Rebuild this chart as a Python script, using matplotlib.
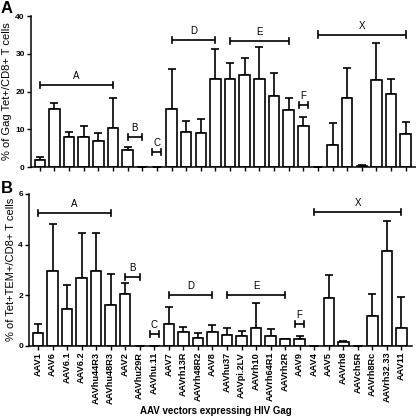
import matplotlib
matplotlib.use("Agg")
import matplotlib.pyplot as plt
import numpy as np

plt.rcParams['font.family'] = ['Liberation Sans', 'DejaVu Sans']

categories = ["AAV1", "AAV6", "AAV6.1", "AAV6.2", "AAVhu44R3", "AAVhu48R3", "AAV2",
              "AAVhu29R", "AAVhu.11", "AAV7", "AAVrh13R", "AAVrh48R2", "AAV8",
              "AAVhu37", "AAVpi.2LV", "AAVrh10", "AAVrh64R1", "AAVrh2R", "AAV9",
              "AAV4", "AAV5", "AAVrh8", "AAVch5R", "AAVrh8Rc", "AAVrh32.33", "AAV11"]

tet_mean = [1.8, 15.4, 7.9, 7.9, 7.0, 10.4, 4.5, 0, 0, 15.4, 9.2, 9.0, 23.4,
            23.2, 24.5, 23.4, 18.8, 15.0, 10.9, 0.1, 5.7, 18.2, 0.35, 23.0, 19.4, 8.8]
tet_sem = [0.8, 1.6, 1.5, 2.9, 2.1, 7.8, 0.9, 0, 0, 10.6, 3.0, 3.8, 7.9,
           4.3, 4.5, 8.3, 6.0, 3.2, 2.4, 0, 5.9, 8.1, 0.25, 9.9, 3.8, 3.0]

tem_mean = [0.48, 2.96, 1.45, 2.67, 2.96, 1.6, 2.03, 0, 0, 0.84, 0.52, 0.3, 0.55,
            0.41, 0.39, 0.7, 0.37, 0.24, 0.24, 0, 1.87, 0.14, 0, 1.16, 3.75, 0.7]
tem_sem = [0.38, 1.87, 0.94, 1.78, 1.51, 1.25, 0.43, 0, 0, 0.68, 0.21, 0.18, 0.25,
           0.3, 0.17, 0.99, 0.29, 0.03, 0.12, 0, 0.93, 0.03, 0, 0.86, 1.18, 1.24]

# groups: label, first category, last category, bracket height
groups_top = [("A", "AAV1", "AAVhu48R3", 21.8), ("B", "AAV2", "AAVhu29R", 7.9),
              ("C", "AAVhu.11", "AAVhu.11", 4.1), ("D", "AAV7", "AAV8", 33.7),
              ("E", "AAVhu37", "AAVrh2R", 33.5), ("F", "AAV9", "AAV9", 16.5),
              ("X", "AAV4", "AAV11", 35.1)]
groups_bot = [("A", "AAV1", "AAVhu48R3", 5.24), ("B", "AAV2", "AAVhu29R", 2.7),
              ("C", "AAVhu.11", "AAVhu.11", 0.45), ("D", "AAV7", "AAV8", 2.0),
              ("E", "AAVhu37", "AAVrh2R", 2.0), ("F", "AAV9", "AAV9", 0.84),
              ("X", "AAV4", "AAV11", 5.3)]

fig = plt.figure(figsize=(4.16, 4.19), dpi=100)
ax1 = fig.add_axes([0.0745, 0.6014, 0.9255, 0.3604])
ax2 = fig.add_axes([0.0704, 0.1754, 0.919, 0.3616])

x = np.arange(len(categories))


def draw(ax, mean, sem, groups, ymax, yticks, ylabel, span_h):
    ax.bar(x, mean, width=0.72, color='white', edgecolor='black', linewidth=1.2, zorder=2)
    ax.errorbar(x, mean, yerr=[np.zeros(len(mean)), sem], fmt='none', ecolor='black',
                elinewidth=1.2, capsize=2.6, capthick=1.2, zorder=1)
    for lab, a, b, h in groups:
        i0 = categories.index(a)
        i1 = categories.index(b)
        x0, x1 = (i0, i1) if i0 != i1 else (i0 - 0.3, i0 + 0.3)
        ax.plot([x0, x1], [h, h], color='black', lw=1.2, solid_capstyle='butt')
        ax.plot([x0, x0], [h - span_h, h + span_h], color='black', lw=1.2)
        ax.plot([x1, x1], [h - span_h, h + span_h], color='black', lw=1.2)
        ax.text((x0 + x1) / 2, h + span_h * 1.3, lab, ha='center', va='bottom', fontsize=7)
    ax.set_xlim(-0.6, 25.7)
    ax.set_ylim(0, ymax)
    ax.set_yticks(yticks)
    ax.set_yticklabels([str(t) for t in yticks], fontsize=6, fontweight='bold')
    ax.set_xticks(x)
    ax.spines['top'].set_visible(False)
    ax.spines['right'].set_visible(False)
    ax.spines['left'].set_linewidth(1.1)
    ax.spines['bottom'].set_linewidth(1.1)
    ax.tick_params(axis='both', direction='out', length=3, width=1.0, pad=1.5)
    ax.set_ylabel(ylabel, fontsize=8, labelpad=2)
    ax.patch.set_alpha(0)


draw(ax1, tet_mean, tet_sem, groups_top, 40, [0, 10, 20, 30, 40],
     "% of Gag Tet+/CD8+ T cells", 0.8)
ax1.set_xticklabels([])
draw(ax2, tem_mean, tem_sem, groups_bot, 6, [0, 2, 4, 6],
     "% of Tet+TEM+/CD8+ T cells", 0.12)
ax2.set_xticklabels(categories, rotation=90, fontsize=6.6, fontweight='bold')
fig.text(216 / 416, 0.02, "AAV vectors expressing HIV Gag", fontsize=7,
         fontweight='bold', ha='center', va='center')

fig.text(0.002, 0.998, "A", fontsize=12, fontweight='bold', va='top', ha='left')
fig.text(0.002, 0.568, "B", fontsize=12, fontweight='bold', va='top', ha='left')

fig.savefig("out.png", dpi=100)
